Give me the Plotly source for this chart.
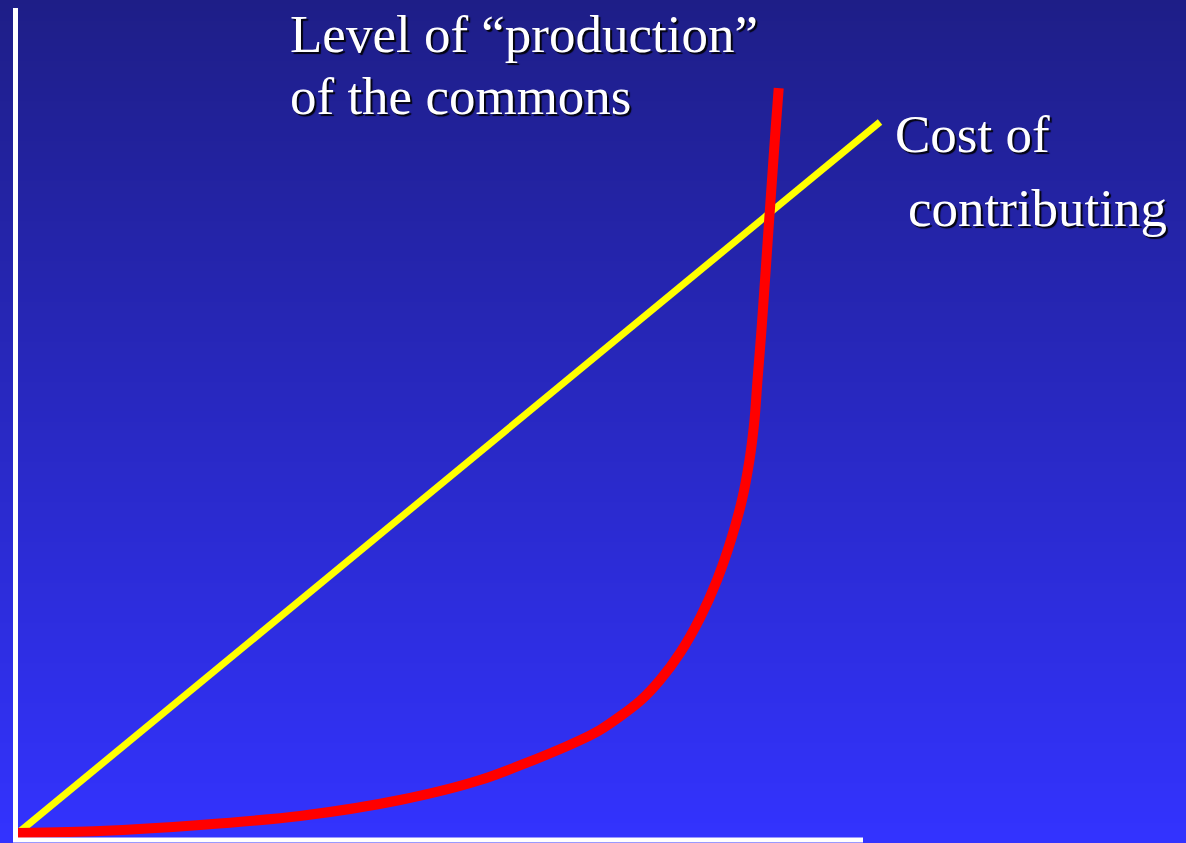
import plotly.graph_objects as go

# Data (arbitrary units: effort/contribution on x, value on y)
cost_x = [0, 100]
cost_y = [0, 100]

prod_x = [0, 9.51, 21.11, 32.71, 44.32, 53.60, 63.46, 67.52, 72.16, 74.48, 76.80, 79.12,
          81.09, 82.71, 83.99, 84.86, 85.44, 85.79, 86.25, 86.66, 87.06, 87.47, 87.88, 88.25]
prod_y = [0, 0.28, 1.13, 2.39, 4.64, 7.45, 12.10, 14.49, 18.57, 21.52, 25.32, 30.24,
          35.58, 41.21, 46.84, 52.46, 58.09, 63.71, 70.75, 77.78, 84.81, 91.84, 98.87, 104.78]

label_prod = ["Level of “production”", "of the commons"]
label_cost = ["Cost of", "contributing"]

W, H = 1186, 843
X0, Y0 = 18, 833          # pixel position of origin
KX, KY = 8.62, 7.11       # pixels per data unit
xr = [-X0 / KX, (W - X0) / KX]
yr = [-(H - Y0) / KY, Y0 / KY]

fig = go.Figure()

# gradient background
fig.add_trace(go.Heatmap(
    x=xr, y=yr, z=[[0, 0], [1, 1]],
    colorscale=[[0, "rgb(51,51,255)"], [1, "rgb(30,30,135)"]],
    zsmooth="best", showscale=False, hoverinfo="skip",
))

fig.add_trace(go.Scatter(x=cost_x, y=cost_y, mode="lines",
                         line=dict(color="#ffff00", width=7), hoverinfo="skip"))
fig.add_trace(go.Scatter(x=prod_x, y=prod_y, mode="lines",
                         line=dict(color="#ff0000", width=10, shape="spline", smoothing=0.8),
                         hoverinfo="skip"))

# axes lines (white)
def px2x(p):
    return (p - X0) / KX

def py2y(p):
    return (Y0 - p) / KY

fig.add_shape(type="line", x0=px2x(15.5), x1=px2x(15.5), y0=py2y(8), y1=py2y(841),
              line=dict(color="white", width=5), layer="above")
fig.add_shape(type="line", x0=px2x(13), x1=px2x(863), y0=py2y(840), y1=py2y(840),
              line=dict(color="white", width=5), layer="above")

font = dict(family="Liberation Serif, Times New Roman, serif", size=53, color="white",
            shadow="2px 2px 1px rgba(0,0,0,0.9)")

def ann(text, px, baseline):
    fig.add_annotation(text=text, xref="paper", yref="paper",
                       x=px / W, y=1 - (baseline - 0.35 * 53) / H,
                       xanchor="left", yanchor="middle", showarrow=False, font=font)

ann(label_prod[0], 288, 53)
ann(label_prod[1], 288, 115)
ann(label_cost[0], 893, 153)
ann(label_cost[1], 906, 227)

fig.update_layout(
    width=W, height=H, margin=dict(l=0, r=0, t=0, b=0),
    showlegend=False, paper_bgcolor="rgb(51,51,255)", plot_bgcolor="rgba(0,0,0,0)",
    xaxis=dict(range=xr, visible=False, fixedrange=True),
    yaxis=dict(range=yr, visible=False, fixedrange=True),
)

fig.write_html("out.html", config={"displayModeBar": False},
               post_script="document.body.style.margin='0';document.body.style.overflow='hidden';")
